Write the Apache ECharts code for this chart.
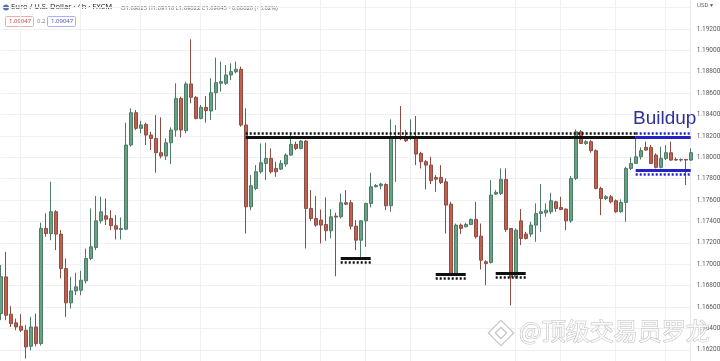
<!DOCTYPE html>
<html><head><meta charset="utf-8">
<script src="https://cdn.jsdelivr.net/npm/echarts@6/dist/echarts.min.js"></script>
<style>html,body{margin:0;padding:0;background:#fff}#c{width:720px;height:361px}</style>
</head><body><div id="c"></div>
<script>
const opens=[1.16539,1.16882,1.16533,1.16452,1.16420,1.16383,1.16233,1.16414,1.16258,1.17335,
 1.17288,1.17491,1.17282,1.16960,1.16639,1.16751,1.16757,1.16845,1.17054,1.17157,
 1.17406,1.17453,1.17428,1.17360,1.17325,1.17328,1.18115,1.18417,1.18271,1.18308,
 1.18208,1.18177,1.18043,1.18012,1.18136,1.18255,1.18551,1.18249,1.18686,1.18561,
 1.18364,1.18467,1.18433,1.18604,1.18692,1.18692,1.18770,1.18801,1.18823,1.18302,
 1.17537,1.17709,1.17865,1.17943,1.17990,1.17896,1.17890,1.17937,1.18021,1.18121,
 1.18083,1.18152,1.17522,1.17428,1.17413,1.17372,1.17313,1.17450,1.17444,1.17575,
 1.17575,1.17356,1.17225,1.17406,1.17569,1.17725,1.17734,1.17746,1.17547,1.18174,
 1.18193,1.18177,1.18177,1.18186,1.18037,1.17959,1.17927,1.17812,1.17812,1.17771,
 1.17562,1.16913,1.17366,1.17350,1.17372,1.17419,1.17263,1.17023,1.17016,1.17656,
 1.17662,1.17793,1.17335,1.16882,1.17406,1.17282,1.17282,1.17366,1.17475,1.17481,
 1.17491,1.17584,1.17531,1.17516,1.17406,1.17803,1.18239,1.18130,1.18146,1.18062,
 1.17709,1.17615,1.17631,1.17594,1.17491,1.17578,1.17896,1.17943,1.18005,1.18093,
 1.18093,1.18021,1.17906,1.17990,1.18043,1.17980,1.17974,1.17980,1.17974];
const closes=[1.16884,1.16523,1.16445,1.16414,1.16383,1.16227,1.16414,1.16258,1.17335,1.17288,
 1.17491,1.17282,1.16960,1.16639,1.16751,1.16789,1.16851,1.17054,1.17163,1.17406,
 1.17491,1.17422,1.17360,1.17328,1.17335,1.18115,1.18417,1.18271,1.18302,1.18208,
 1.18177,1.18043,1.18012,1.18136,1.18255,1.18551,1.18255,1.18686,1.18561,1.18364,
 1.18467,1.18436,1.18604,1.18698,1.18707,1.18770,1.18801,1.18823,1.18302,1.17537,
 1.17734,1.17865,1.17949,1.17990,1.17865,1.17865,1.17943,1.18021,1.18121,1.18083,
 1.18152,1.17522,1.17428,1.17366,1.17366,1.17313,1.17444,1.17441,1.17575,1.17562,
 1.17356,1.17225,1.17406,1.17569,1.17725,1.17737,1.17750,1.17547,1.18177,1.18193,
 1.18174,1.18155,1.18199,1.18030,1.17959,1.17927,1.17781,1.17796,1.17765,1.17553,
 1.16913,1.17366,1.17335,1.17372,1.17419,1.17257,1.17038,1.17007,1.17647,1.17672,
 1.17793,1.17325,1.16882,1.17319,1.17241,1.17241,1.17366,1.17475,1.17491,1.17506,
 1.17594,1.17522,1.17512,1.17406,1.17803,1.18239,1.18130,1.18146,1.18062,1.17709,
 1.17615,1.17631,1.17584,1.17491,1.17578,1.17896,1.17943,1.18005,1.18062,1.18068,
 1.17943,1.17906,1.17990,1.18043,1.17974,1.17974,1.17980,1.17974,1.18043];
const lows=[1.16477,1.16477,1.16414,1.16383,1.16367,1.16118,1.16196,1.16233,1.16240,1.17257,
 1.17225,1.17132,1.16867,1.16508,1.16586,1.16711,1.16711,1.16820,1.17038,1.17132,
 1.17381,1.17366,1.17319,1.17232,1.17232,1.17319,1.18099,1.18255,1.18224,1.18115,
 1.18068,1.17856,1.17990,1.17974,1.17937,1.18193,1.18186,1.18224,1.18505,1.18355,
 1.18355,1.18324,1.18349,1.18442,1.18614,1.18676,1.18723,1.18785,1.18286,1.17288,
 1.17506,1.17693,1.17849,1.17787,1.17849,1.17818,1.17881,1.17912,1.18012,1.18068,
 1.18074,1.17147,1.17406,1.17350,1.17194,1.17219,1.17241,1.16888,1.17428,1.17553,
 1.17325,1.17132,1.17054,1.17163,1.17531,1.17718,1.17700,1.17506,1.17491,1.17771,
 1.18161,1.18143,1.18161,1.17927,1.17896,1.17700,1.17750,1.17678,1.17750,1.17288,
 1.16898,1.16898,1.17282,1.17344,1.17366,1.17241,1.16951,1.16804,1.17007,1.17647,
 1.17647,1.17303,1.16617,1.16867,1.17179,1.17232,1.17257,1.17210,1.17303,1.17444,
 1.17469,1.17491,1.17506,1.17319,1.17388,1.17787,1.18124,1.18115,1.18043,1.17700,
 1.17459,1.17600,1.17569,1.17481,1.17481,1.17397,1.17881,1.17937,1.17980,1.18062,
 1.17937,1.17896,1.17896,1.17974,1.17968,1.17968,1.17959,1.17740,1.17968];
const highs=[1.16994,1.17116,1.16608,1.16492,1.16533,1.16430,1.16508,1.16539,1.17388,1.17475,
 1.17771,1.17506,1.17319,1.17054,1.16882,1.16920,1.16938,1.17147,1.17522,1.17637,
 1.17631,1.17615,1.17506,1.17459,1.17438,1.18324,1.18458,1.18442,1.18342,1.18324,
 1.18239,1.18395,1.18374,1.18177,1.18280,1.18692,1.18567,1.18707,1.19104,1.18573,
 1.18489,1.18573,1.18739,1.18932,1.18895,1.18863,1.18879,1.18895,1.18848,1.18458,
 1.17834,1.17927,1.18130,1.18136,1.18083,1.17959,1.17974,1.18037,1.18224,1.18146,
 1.18161,1.18161,1.17693,1.17637,1.17512,1.17625,1.17516,1.17481,1.17662,1.17693,
 1.17600,1.17413,1.17413,1.17575,1.17856,1.17750,1.17762,1.17756,1.18355,1.18302,
 1.18480,1.18255,1.18355,1.18386,1.18052,1.17974,1.18005,1.17834,1.17927,1.17803,
 1.17584,1.17381,1.17381,1.17388,1.17428,1.17584,1.17381,1.17038,1.17787,1.17693,
 1.17896,1.17896,1.17335,1.17335,1.17516,1.17303,1.17397,1.17569,1.17750,1.17569,
 1.17668,1.17594,1.17631,1.17522,1.17824,1.18261,1.18255,1.18161,1.18161,1.18074,
 1.17725,1.17647,1.17647,1.17606,1.17606,1.17912,1.17999,1.18177,1.18093,1.18146,
 1.18115,1.18037,1.18099,1.18115,1.18146,1.17999,1.17990,1.17980,1.18083];

const categories = opens.map((_, i) => 'Bar ' + (i + 1));
const tickLabels = ['1.19200','1.19000','1.18800','1.18600','1.18400','1.18200','1.18000','1.17800',
  '1.17600','1.17400','1.17200','1.17000','1.16800','1.16600','1.16400','1.16200'];
const vGridIdx = [4, 16, 28, 40, 52, 64, 73, 82, 103, 112, 123, 133];

// annotation levels (bar index range, price)
const resistanceSolid = {from: 49, to: 127, price: 1.18184};
const resistanceDotted = {from: 49, to: 127, price: 1.18221};
const buildupSolid = [{from: 127, to: 138, price: 1.18184}, {from: 127, to: 138, price: 1.17881}];
const buildupDotted = [{from: 127, to: 138, price: 1.18221}, {from: 127, to: 138, price: 1.17841}];
const supportSolid = [{from: 68, to: 74, price: 1.17056}, {from: 87, to: 93, price: 1.16909}, {from: 99, to: 105, price: 1.16916}];
const supportDotted = [{from: 68, to: 74, price: 1.17019}, {from: 87, to: 93, price: 1.16869}, {from: 99, to: 105, price: 1.16878}];

const BLACK = '#111111', BLUE = '#2424c4';
function seg(s, color, width, dotted) {
  return [
    {coord: [categories[s.from], s.price], lineStyle: {color: color, width: width, type: dotted ? [2, 2] : 'solid', cap: 'butt'}},
    {coord: [categories[s.to], s.price]}
  ];
}
const markLines = [
  seg(resistanceSolid, BLACK, 3, false),
  seg(resistanceDotted, BLACK, 2.5, true),
  ...supportSolid.map(s => seg(s, BLACK, 3, false)),
  ...supportDotted.map(s => seg(s, BLACK, 2.5, true)),
  ...buildupSolid.map(s => seg(s, BLUE, 3, false)),
  ...buildupDotted.map(s => seg(s, BLUE, 2.5, true))
];

const chart = echarts.init(document.getElementById('c'), null, {renderer: 'canvas'});
chart.setOption({
  animation: false,
  backgroundColor: '#ffffff',
  grid: {left: 0.7, right: 29.3, top: -13.8, bottom: -10.2, outerBoundsMode: 'none', containLabel: false},
  xAxis: {
    type: 'category', data: categories, boundaryGap: false,
    axisLine: {show: false}, axisTick: {show: false}, axisLabel: {show: false},
    splitLine: {show: true, interval: (i) => vGridIdx.includes(i), lineStyle: {color: '#eef0f3', width: 1}}
  },
  yAxis: {
    type: 'value', position: 'right', min: 1.160, max: 1.196, interval: 0.002,
    axisLine: {show: true, lineStyle: {color: '#e6e8ee'}}, axisTick: {show: false},
    axisLabel: {
      margin: 6, fontSize: 6.5, color: '#555', fontFamily: 'Roboto',
      formatter: (v) => { const s = v.toFixed(5); return tickLabels.includes(s) ? s : ''; }
    },
    splitLine: {show: true, lineStyle: {color: '#eef0f3', width: 1}}
  },
  series: [{
    type: 'candlestick',
    data: opens.map((o, i) => [o, closes[i], lows[i], highs[i]]),
    barWidth: 3.8,
    clip: false,
    itemStyle: {color: '#66a284', color0: '#c45e4e', borderColor: '#4f7a66', borderColor0: '#8a4e45', borderWidth: 1},
    markLine: {silent: true, symbol: ['none', 'none'], label: {show: false}, animation: false, data: markLines}
  }],
  graphic: [
    {type: 'circle', shape: {cx: 6, cy: 7.5, r: 3}, style: {fill: '#5877a8'}},
    {type: 'text', x: 11, y: 3.3, style: {text: 'Euro / U.S. Dollar · 4h · FXCM', font: '7.6px "Noto Sans"', fill: '#2a2a2a'}},
    {type: 'text', x: 121, y: 5, style: {text: 'O1.09025 H1.09110 L1.09022 C1.09045 +0.00020 (+0.02%)', font: '5.8px "Noto Sans"', fill: '#666'}},
    {type: 'rect', shape: {x: 5.5, y: 16.5, width: 28, height: 10, r: 1}, style: {fill: '#fff', stroke: '#eab0b0', lineWidth: 1}},
    {type: 'text', x: 9, y: 18.5, style: {text: '1.09047', font: '6px "Noto Sans"', fill: '#d04848'}},
    {type: 'text', x: 37, y: 18.5, style: {text: '0.2', font: '6px "Noto Sans"', fill: '#888'}},
    {type: 'rect', shape: {x: 47.5, y: 16.5, width: 28, height: 10, r: 1}, style: {fill: '#fff', stroke: '#aab2e6', lineWidth: 1}},
    {type: 'text', x: 51, y: 18.5, style: {text: '1.09047', font: '6px "Noto Sans"', fill: '#4858c8'}},
    {type: 'text', x: 697, y: 2, style: {text: 'USD ▾', font: '6px Roboto', fill: '#666'}},
    {type: 'text', x: 633, y: 109, z: 100, style: {text: 'Buildup', font: '19px "Liberation Sans"', fill: '#2f2f9c'}},
    {type: 'rect', x: 501, y: 333, rotation: Math.PI / 4, shape: {x: -9, y: -9, width: 18, height: 18}, z: 100,
      style: {fill: 'rgba(255,255,255,0.6)', stroke: '#c4c4c4', lineWidth: 1.2}},
    {type: 'rect', x: 501, y: 333, rotation: Math.PI / 4, shape: {x: -4, y: -4, width: 8, height: 8}, z: 100,
      style: {fill: 'none', stroke: '#c4c4c4', lineWidth: 1.2}},
    {type: 'text', x: 519, y: 319, z: 100, style: {text: '@顶级交易员罗龙', font: '24px "Noto Sans CJK SC"', fill: 'rgba(255,255,255,0.85)', stroke: '#bdbdbd', lineWidth: 1}}
  ]
});
</script></body></html>
